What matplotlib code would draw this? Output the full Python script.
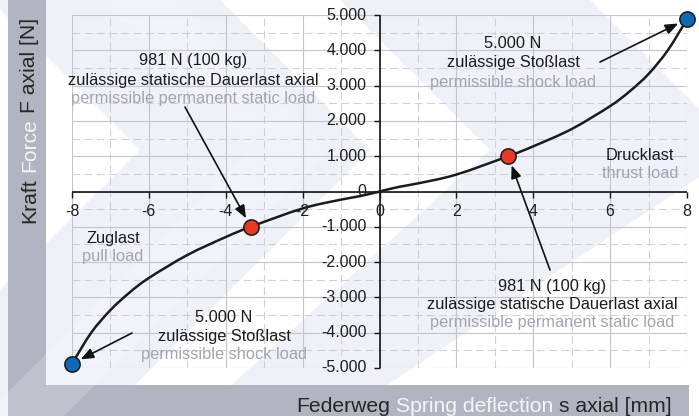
import matplotlib
matplotlib.use('Agg')
import matplotlib.pyplot as plt
from matplotlib.patches import Polygon, Rectangle, PathPatch
from matplotlib.path import Path
import matplotlib.transforms as mtransforms
import numpy as np

plt.rcParams['font.family'] = ['Liberation Sans', 'DejaVu Sans']

# ---------------- data ----------------
deflection = [-8, -7.5, -7, -6.5, -6, -5, -4, -3.35, -2, -1, -0.5, 0,
              0.5, 1, 2, 3.35, 4, 5, 6, 6.5, 7, 7.5, 8]
force = [-4880, -4000, -3360, -2860, -2450, -1800, -1290, -1000, -480, -230, -130, 0,
         130, 230, 480, 1000, 1280, 1770, 2420, 2830, 3330, 4000, 4880]
static_x = [-3.35, 3.35]
static_y = [-1000, 1000]
shock_x = [-8, 8]
shock_y = [-4880, 4880]
x_ticks = [-8, -6, -4, -2, 0, 2, 4, 6, 8]
x_tick_labels = ['-8', '-6', '-4', '-2', '0', '2', '4', '6', '8']
x_minor = [-7, -5, -3, -1, 1, 3, 5, 7]
y_ticks = [-5000, -4000, -3000, -2000, -1000, 0, 1000, 2000, 3000, 4000, 5000]
y_tick_labels = ['-5.000', '-4.000', '-3.000', '-2.000', '-1.000', '0',
                 '1.000', '2.000', '3.000', '4.000', '5.000']
y_minor = [-4500, -3500, -2500, -1500, -500, 500, 1500, 2500, 3500, 4500]

W, H = 699, 416
fig = plt.figure(figsize=(W / 100, H / 100), dpi=100)
fig.patch.set_facecolor('white')


def fx(px):
    return px / W


def fy(py):
    return 1 - py / H


# ---------------- background watermark ----------------
LAV = '#eff1f9'


def edge(apex, y, kup, kdn, yap=150):
    return apex - (kup * (yap - y) if y < yap else kdn * (y - yap))


def band(a1, a2, k1, k2, color, alpha=1.0, z=-3):
    ys = [0, 150, 416]
    left = [(fx(edge(a1, y, 1.0, k1)), fy(y)) for y in ys]
    right = [(fx(edge(a2, y, 1.0, k2)), fy(y)) for y in ys[::-1]]
    fig.patches.append(Polygon(left + right, closed=True, transform=fig.transFigure,
                               facecolor=color, edgecolor='none', alpha=alpha, zorder=z))


band(140, 370, 1.0, 1.0, LAV)
band(490, 740, 1.1, 1.5, LAV)

GRAY = '#b2b5c1'
fig.patches.append(Rectangle((fx(8), 0), (46 - 8) / W, 1, transform=fig.transFigure,
                             facecolor=GRAY, edgecolor='none', zorder=-2))
fig.patches.append(Rectangle((fx(8), 0), (689 - 8) / W, (416 - 385) / H, transform=fig.transFigure,
                             facecolor=GRAY, edgecolor='none', zorder=-2))
band(250, 330, 1.0, 1.0, 'white', alpha=0.18, z=-1)

# ---------------- axes ----------------
ax = fig.add_axes([72 / W, 1 - 368 / H, 615 / W, 353 / H])
ax.set_zorder(1)
ax.set_xlim(-8, 8)
ax.set_ylim(-5000, 5000)
ax.patch.set_alpha(0)
for s in ax.spines.values():
    s.set_visible(False)
ax.set_xticks(x_ticks)
ax.set_xticks(x_minor, minor=True)
ax.set_yticks(y_ticks)
ax.set_yticks(y_minor, minor=True)
ax.tick_params(which='both', length=0, labelbottom=False, labelleft=False)
ax.grid(which='major', color='#c3c5cb', lw=0.8)
ax.grid(which='minor', color='#cfd1d6', lw=0.8, linestyle=(0, (7, 4)))
ax.set_axisbelow(True)

ax.axhline(0, color='#151515', lw=1.2, zorder=3)
ax.axvline(0, color='#151515', lw=1.2, zorder=3)
ax.plot(x_ticks, [0] * len(x_ticks), linestyle='none', marker=3, ms=4, mew=1,
        color='#151515', zorder=3, clip_on=False)
ax.plot([0] * len(y_ticks), y_ticks, linestyle='none', marker=0, ms=4, mew=1,
        color='#151515', zorder=3, clip_on=False)

TFS = 11.5
tx = ax.transData + mtransforms.ScaledTranslation(0, -20 / 100, fig.dpi_scale_trans)
for v, lab in zip(x_ticks, x_tick_labels):
    ax.text(v, 0, lab, transform=tx, ha='center', va='center', fontsize=TFS, color='#1e1e1e')
ty = ax.transData + mtransforms.ScaledTranslation(-13 / 100, 0, fig.dpi_scale_trans)
for v, lab in zip(y_ticks, y_tick_labels):
    ax.text(0, v, lab, transform=ty, ha='right', va='center', fontsize=TFS, color='#1e1e1e')

# smooth curve through the read points (Catmull-Rom drawn as Bezier path)
pts = np.column_stack([deflection, force]).astype(float)
verts = [tuple(pts[0])]
codes = [Path.MOVETO]
n = len(pts)
for i in range(n - 1):
    p0 = pts[i - 1] if i > 0 else pts[i]
    p1 = pts[i]
    p2 = pts[i + 1]
    p3 = pts[i + 2] if i + 2 < n else pts[i + 1]
    c1 = p1 + (p2 - p0) / 6.0
    c2 = p2 - (p3 - p1) / 6.0
    verts += [tuple(c1), tuple(c2), tuple(p2)]
    codes += [Path.CURVE4] * 3
curve = PathPatch(Path(verts, codes), facecolor='none', edgecolor='#1b1b1b', lw=1.8,
                  zorder=4, clip_on=False, joinstyle='round', capstyle='round')
ax.add_patch(curve)

ax.plot(static_x, static_y, 'o', ms=11, mfc='#e53b25', mec='#1a1a1a', mew=1.1,
        zorder=6, clip_on=False)
ax.plot(shock_x, shock_y, 'o', ms=11, mfc='#0d69b4', mec='#1a1a1a', mew=1.1,
        zorder=6, clip_on=False)

# ---------------- annotations ----------------
DARK = '#1c1c1c'
LIGHT = '#a2a5b0'
FS = 11.8


def block(cx, ys, lines):
    for y, (s, c) in zip(ys, lines):
        fig.text(fx(cx), fy(y), s, ha='center', va='center', fontsize=FS, color=c, zorder=5)


static_lines = [('981 N (100 kg)', DARK), ('zulässige statische Dauerlast axial', DARK),
                ('permissible permanent static load', LIGHT)]
shock_lines = [('5.000 N', DARK), ('zulässige Stoßlast', DARK), ('permissible shock load', LIGHT)]

block(193, [61, 80, 98], static_lines)
block(552, [286, 305, 323], static_lines)
block(513, [44, 63, 82], shock_lines)
block(224, [317, 337, 355], shock_lines)
block(640, [155, 173], [('Drucklast', DARK), ('thrust load', LIGHT)])
block(113, [238, 256], [('Zuglast', DARK), ('pull load', LIGHT)])


def arrow(pt, start_px):
    ax.annotate('', xy=pt, xycoords='data', xytext=(fx(start_px[0]), fy(start_px[1])),
                textcoords='figure fraction',
                arrowprops=dict(arrowstyle='-|>,head_length=0.7,head_width=0.28',
                                color='#111111', lw=1.2,
                                shrinkA=0, shrinkB=7, mutation_scale=11),
                zorder=5, annotation_clip=False)


arrow((static_x[0], static_y[0]), (185, 107))
arrow((static_x[1], static_y[1]), (550, 270))
arrow((shock_x[1], shock_y[1]), (600, 62))
arrow((shock_x[0], shock_y[0]), (132, 333))

# ---------------- axis labels (multi-coloured) ----------------
renderer = fig.canvas.get_renderer()
LFS = 15.2


def text_width(s):
    t = fig.text(0, 0, s, fontsize=LFS)
    w = t.get_window_extent(renderer).width
    t.remove()
    return w


space_w = text_width('x x') - text_width('xx')

xpieces = [('Federweg', '#262626'), ('Spring deflection', '#f4f5f8'), ('s axial [mm]', '#262626')]
widths = [text_width(s) for s, _ in xpieces]
total = sum(widths) + space_w * (len(xpieces) - 1)
xcur = 672 - total
for (s, c), w in zip(xpieces, widths):
    fig.text(fx(xcur), fy(412), s, ha='left', va='baseline', fontsize=LFS, color=c, zorder=3)
    xcur += w + space_w

ypieces = [('Kraft', '#262626'), ('Force', '#f4f5f8'), ('F axial [N]', '#262626')]
ycur = 223
for s, c in ypieces:
    w = text_width(s)
    fig.text(fx(35), fy(ycur), s, ha='left', va='baseline', fontsize=LFS, color=c,
             rotation=90, rotation_mode='anchor', zorder=3)
    ycur -= w + space_w

fig.savefig('out.png', dpi=100)
